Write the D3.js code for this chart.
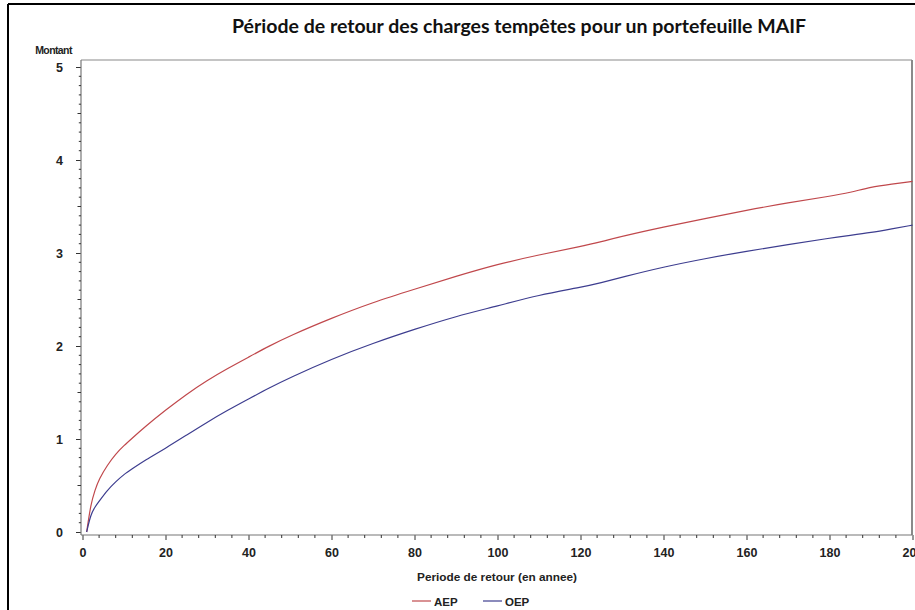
<!DOCTYPE html>
<html>
<head>
<meta charset="utf-8">
<script src="https://cdn.jsdelivr.net/npm/d3@7"></script>
<style>
  html, body { margin: 0; padding: 0; background: #fff; }
  svg { display: block; }
</style>
</head>
<body>
<svg id="chart" width="915" height="610"></svg>
<script>
const periods = [1,2,3,4,6,8,10,12,15,20,25,30,35,40,45,50,60,70,80,90,100,110,120,125,130,140,150,160,170,180,185,190,195,200];
const aep = [0,0.30,0.45,0.57,0.72,0.84,0.93,1.01,1.13,1.31,1.48,1.63,1.76,1.88,2.00,2.11,2.30,2.47,2.61,2.75,2.88,2.98,3.07,3.12,3.18,3.28,3.37,3.46,3.54,3.61,3.65,3.71,3.74,3.77];
const oep = [0,0.19,0.27,0.33,0.45,0.54,0.62,0.68,0.77,0.90,1.04,1.18,1.31,1.43,1.55,1.66,1.86,2.03,2.18,2.32,2.43,2.55,2.63,2.68,2.74,2.85,2.94,3.02,3.09,3.16,3.19,3.22,3.26,3.30];
const seriesNames = ["AEP", "OEP"];
const seriesColors = ["#c0484c", "#3d3d8f"];
const xTicks = [0,20,40,60,80,100,120,140,160,180,200];
const yTicks = [0,1,2,3,4,5];
const titleText = "Période de retour des charges tempêtes pour un portefeuille MAIF";
const xLabel = "Periode de retour (en annee)";
const yLabel = "Montant";

const svg = d3.select("#chart");
const x = d3.scaleLinear().domain([0, 200]).range([82.5, 912.5]);
const y = d3.scaleLinear().domain([0, 5]).range([532, 67]);

const axisX = x(0) - 1.5;   // y axis line position
const axisY = y(0) + 3;     // x axis line position
const frameTop = 60, frameRight = 912;
const axisFont = "'Liberation Sans', Arial, sans-serif";

// outer black border (left & top)
svg.append("line").attr("x1", 8).attr("x2", 8).attr("y1", 4).attr("y2", 610)
  .attr("stroke", "#000").attr("stroke-width", 2);
svg.append("line").attr("x1", 8).attr("x2", 915).attr("y1", 4).attr("y2", 4)
  .attr("stroke", "#000").attr("stroke-width", 2);

// title
svg.append("text").attr("x", 519).attr("y", 33).attr("text-anchor", "middle")
  .attr("font-family", "Lato, 'Open Sans', sans-serif").attr("font-weight", "bold")
  .attr("font-size", 18).attr("fill", "#111")
  .attr("textLength", 574).attr("lengthAdjust", "spacingAndGlyphs")
  .text(titleText);

// frame
svg.append("line").attr("x1", axisX).attr("x2", frameRight).attr("y1", frameTop).attr("y2", frameTop)
  .attr("stroke", "#8a8a8a").attr("stroke-width", 1.2);
svg.append("line").attr("x1", frameRight).attr("x2", frameRight).attr("y1", frameTop).attr("y2", axisY)
  .attr("stroke", "#8a8a8a").attr("stroke-width", 2);

// Y axis
const yAxisG = svg.append("g").attr("transform", `translate(${axisX},0)`);
const yAxis = d3.axisLeft(y).tickValues(yTicks).tickSize(5).tickPadding(13).tickFormat(d3.format("d"));
yAxisG.call(yAxis);
yAxisG.select(".domain").remove();
yAxisG.append("line").attr("x1", 0).attr("x2", 0).attr("y1", frameTop).attr("y2", axisY)
  .attr("stroke", "#777").attr("stroke-width", 1.2);
const yMinor = d3.range(0, 50).map(i => i / 10).filter(v => Math.abs(v - Math.round(v)) > 1e-6);
yAxisG.selectAll("line.minor").data(yMinor).join("line").attr("class", "minor")
  .attr("x1", d => Math.abs(d * 2 - Math.round(d * 2)) < 1e-6 ? -3.5 : -2.2).attr("x2", 0)
  .attr("y1", d => y(d)).attr("y2", d => y(d))
  .attr("stroke", "#333").attr("stroke-width", 1);
yAxisG.selectAll(".tick line").attr("stroke", "#333");
yAxisG.selectAll(".tick text").attr("font-family", axisFont)
  .attr("font-weight", "bold").attr("font-size", 12.5).attr("fill", "#222");

// X axis
const xAxisG = svg.append("g").attr("transform", `translate(0,${axisY})`);
const xAxis = d3.axisBottom(x).tickValues(xTicks).tickSize(5).tickPadding(8).tickFormat(d3.format("d"));
xAxisG.call(xAxis);
xAxisG.select(".domain").remove();
xAxisG.append("line").attr("x1", axisX).attr("x2", frameRight).attr("y1", 0).attr("y2", 0)
  .attr("stroke", "#777").attr("stroke-width", 1.2);
const xMinor = d3.range(0, 201, 4).filter(v => v % 20 !== 0);
xAxisG.selectAll("line.minor").data(xMinor).join("line").attr("class", "minor")
  .attr("x1", d => x(d)).attr("x2", d => x(d)).attr("y1", 0).attr("y2", 3)
  .attr("stroke", "#333").attr("stroke-width", 1);
xAxisG.selectAll(".tick line").attr("stroke", "#333");
xAxisG.selectAll(".tick text").attr("font-family", axisFont)
  .attr("font-weight", "bold").attr("font-size", 12.5).attr("fill", "#222");

// axis labels
svg.append("text").attr("x", 53.5).attr("y", 54).attr("text-anchor", "middle")
  .attr("font-family", axisFont).attr("font-size", 10.5).attr("font-weight", "bold")
  .attr("letter-spacing", -0.6).attr("fill", "#222").text(yLabel);
svg.append("text").attr("x", 497).attr("y", 581).attr("text-anchor", "middle")
  .attr("font-family", axisFont).attr("font-size", 11.8).attr("font-weight", "bold")
  .attr("fill", "#222").text(xLabel);

// lines
const line = d3.line().x(d => x(d[0])).y(d => y(d[1])).curve(d3.curveBasis);
[aep, oep].forEach((vals, i) => {
  svg.append("path").datum(periods.map((p, j) => [p, vals[j]]))
    .attr("d", line).attr("fill", "none")
    .attr("stroke", seriesColors[i]).attr("stroke-width", 1.2);
});

// legend
const legendX = [412, 483];
seriesNames.forEach((name, i) => {
  const g = svg.append("g").attr("transform", `translate(${legendX[i]},601)`);
  g.append("line").attr("x1", 0).attr("x2", 19).attr("y1", 0).attr("y2", 0)
    .attr("stroke", seriesColors[i]).attr("stroke-width", 1.2);
  g.append("text").attr("x", 22).attr("y", 4.5).attr("font-family", axisFont)
    .attr("font-size", 11.5).attr("font-weight", "bold").attr("fill", "#222").text(name);
});
</script>
</body>
</html>
